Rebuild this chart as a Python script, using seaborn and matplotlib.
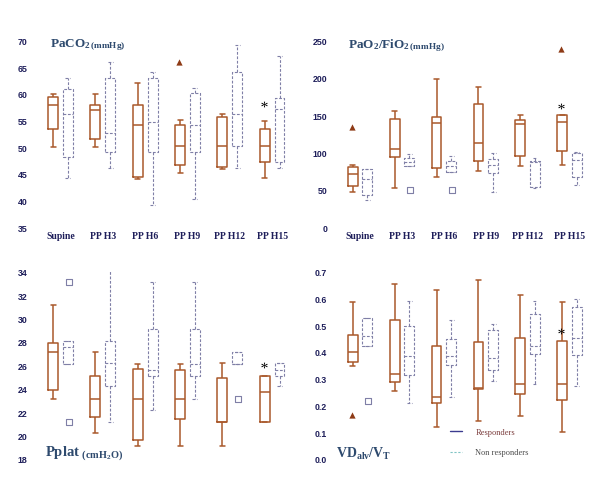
import matplotlib
import numpy as np
import pandas as pd
import seaborn as sns
import matplotlib.pyplot as plt
from matplotlib.lines import Line2D
from matplotlib.ticker import MultipleLocator, FormatStrFormatter

matplotlib.use("agg")

TIMES = ["Supine", "PP H3", "PP H6", "PP H9", "PP H12", "PP H15"]
GROUPS = ["Responders", "Non responders"]

# box summaries per time point: [low whisker, q1, median, q3, high whisker]
paco2_resp = [[50, 53.5, 58, 59.5, 60], [50, 51.5, 57, 58, 60], [44, 44.5, 54.25, 58, 62],
              [45.2, 46.6, 50.2, 54.25, 55.1], [46, 46.4, 50.2, 55.6, 56.2], [44.2, 47.2, 50.2, 53.4, 55]]
paco2_nonresp = [[44.2, 48.2, 56.2, 61, 63], [46.2, 49.1, 52.6, 63, 66], [39.2, 49.2, 54.7, 63, 64.2],
                 [40.3, 49.2, 54.25, 60.1, 61.2], [46.2, 50.2, 56.25, 64.2, 69.2], [46.1, 47.2, 57.2, 59.2, 67.2]]
paco2_resp_out = {"PP H9": 66}
paco2_nonresp_out = {}
paco2_star = {"PP H15": 58.2}

pf_resp = [[47.8, 55.8, 71.4, 81, 84], [53, 94, 104.5, 145, 156], [67, 79, 139.7, 148, 198],
           [75, 88.8, 112.5, 165, 187.5], [82.6, 95, 138, 144, 151], [84, 101.8, 140.6, 150.4, 150.4]]
pf_nonresp = [[36.6, 43.3, 64.7, 78.6, 78.6], [81.7, 81.7, 87, 92.4, 97.8], [73.7, 73.7, 82.6, 89, 95],
              [47.3, 72.8, 84, 91, 99], [52.7, 54, 87, 89.3, 92.4], [57, 67, 90.6, 99, 100.4]]
pf_resp_out = {"Supine": 134, "PP H15": 238.8}
pf_nonresp_out = {"PP H3": 49.6, "PP H6": 49.6}
pf_star = {"PP H15": 162}

pplat_resp = [[23.1, 23.9, 27.1, 27.9, 31.15], [20.2, 21.6, 23.1, 25.1, 27.1], [19.1, 19.65, 23.1, 25.7, 26.1],
              [19.1, 21.4, 23.1, 25.6, 26.1], [19.14, 21.2, 21.2, 24.9, 26.17], [21.2, 21.2, 23.7, 25.1, 25.1]]
pplat_nonresp = [[26.1, 26.1, 27.6, 28.1, 28.1], [21.2, 24.2, 26.2, 28.1, 34.1], [22.2, 25.1, 25.6, 29.1, 33.1],
                 [23.1, 25.1, 26.1, 29.1, 33.1], [26.1, 26.1, 26.1, 27.1, 27.1], [24.2, 25.1, 25.6, 26.2, 26.2]]
pplat_resp_out = {}
pplat_nonresp_out = {"Supine": [33.1, 21.2], "PP H12": 23.1}
pplat_star = {"PP H15": 26.05}

vd_resp = [[0.349, 0.362, 0.40, 0.463, 0.588], [0.255, 0.289, 0.319, 0.518, 0.653], [0.121, 0.21, 0.233, 0.422, 0.633],
           [0.141, 0.26, 0.265, 0.436, 0.669], [0.159, 0.244, 0.281, 0.453, 0.613], [0.1, 0.222, 0.281, 0.442, 0.588]]
vd_nonresp = [[0.421, 0.421, 0.461, 0.527, 0.527], [0.209, 0.313, 0.386, 0.496, 0.59], [0.23, 0.352, 0.386, 0.45, 0.518],
              [0.293, 0.333, 0.376, 0.483, 0.503], [0.281, 0.392, 0.423, 0.54, 0.589], [0.272, 0.387, 0.452, 0.569, 0.599]]
vd_resp_out = {"Supine": 0.166}
vd_nonresp_out = {"Supine": 0.218}
vd_star = {"PP H15": 0.477}

RESP_COLOR = "#A9582B"
NONRESP_COLOR = "#7F7FA6"
TRI_COLOR = "#8E3B16"
TICK_COLOR = "#1E1E5A"
TITLE_COLOR = "#2E4A6E"
PALETTE = {"Responders": RESP_COLOR, "Non responders": NONRESP_COLOR}


def box_table(resp, nonresp):
    rows = []
    for t, r, n in zip(TIMES, resp, nonresp):
        rows += [(t, "Responders", v) for v in r]
        rows += [(t, "Non responders", v) for v in n]
    return pd.DataFrame(rows, columns=["time", "group", "value"])


def point_table(points, group):
    rows = []
    for t, v in points.items():
        for val in np.atleast_1d(v):
            rows.append((t, group, val))
    return pd.DataFrame(rows, columns=["time", "group", "value"])


def draw_panel(ax, resp, nonresp, resp_out, nonresp_out, star):
    df = box_table(resp, nonresp)
    common = dict(x="time", y="value", hue="group", order=TIMES, hue_order=GROUPS,
                  palette=PALETTE, dodge=True, legend=False, ax=ax)
    sns.boxplot(data=df[df.group == "Responders"], fill=False, width=0.7, gap=0.33,
                whis=np.inf, linewidth=1.1, **common)
    dash = dict(linestyle=(0, (2.5, 1.5)), linewidth=0.8)
    sns.boxplot(data=df[df.group == "Non responders"], fill=False, width=0.7, gap=0.33,
                whis=np.inf, linewidth=0.8, boxprops=dash, whiskerprops=dash,
                capprops=dash, medianprops=dash, **common)

    if resp_out:
        sns.stripplot(data=point_table(resp_out, "Responders"), jitter=False, marker="^",
                      size=4.5, **{**common, "palette": {g: TRI_COLOR for g in GROUPS}})
    if nonresp_out:
        n_before = len(ax.collections)
        sns.stripplot(data=point_table(nonresp_out, "Non responders"), jitter=False, marker="s",
                      size=4, **common)
        for sq in ax.collections[n_before:]:
            sq.set_facecolor("white")
            sq.set_edgecolor(NONRESP_COLOR)
            sq.set_linewidth(0.8)
    sns.stripplot(data=point_table(star, "Responders"), jitter=False, marker="$*$",
                  size=4.5, **{**common, "palette": {g: "black" for g in GROUPS}})

    ax.set_xlim(-0.65, 5.55)
    ax.set_xlabel("")
    ax.set_ylabel("")
    sns.despine(ax=ax, left=True, bottom=True)
    ax.tick_params(axis="y", which="both", colors="#9a9a9a", width=0.6, pad=1.5,
                   labelcolor=TICK_COLOR, labelsize=6.3)
    ax.tick_params(axis="y", which="major", length=2.5)
    ax.tick_params(axis="y", which="minor", length=1.5)
    ax.tick_params(axis="x", length=0, pad=3, labelcolor=TICK_COLOR, labelsize=7)
    for lab in ax.get_xticklabels():
        lab.set_fontweight("bold")
        lab.set_family("Liberation Serif")


sns.set_style("white")
plt.rcParams["font.family"] = ["Liberation Sans", "DejaVu Sans"]
plt.rcParams["mathtext.fontset"] = "custom"
plt.rcParams["mathtext.rm"] = "Liberation Serif"
plt.rcParams["mathtext.bf"] = "Liberation Serif:bold"
plt.rcParams["mathtext.it"] = "Liberation Serif:italic"

fig = plt.figure(figsize=(6, 4.81), dpi=100)
ax1 = fig.add_axes([0.055, 0.5253, 0.4373, 0.3881])
ax2 = fig.add_axes([0.5547, 0.5253, 0.433, 0.3881])
ax3 = fig.add_axes([0.055, 0.0437, 0.4373, 0.3895])
ax4 = fig.add_axes([0.5547, 0.0437, 0.433, 0.3895])

draw_panel(ax1, paco2_resp, paco2_nonresp, paco2_resp_out, paco2_nonresp_out, paco2_star)
ax1.set_ylim(35, 70)
ax1.yaxis.set_major_locator(MultipleLocator(5))

draw_panel(ax2, pf_resp, pf_nonresp, pf_resp_out, pf_nonresp_out, pf_star)
ax2.set_ylim(0, 250)
ax2.yaxis.set_major_locator(MultipleLocator(50))

draw_panel(ax3, pplat_resp, pplat_nonresp, pplat_resp_out, pplat_nonresp_out, pplat_star)
ax3.set_ylim(18, 34)
ax3.yaxis.set_major_locator(MultipleLocator(2))
ax3.yaxis.set_minor_locator(MultipleLocator(1))
ax3.set_xticklabels([])

draw_panel(ax4, vd_resp, vd_nonresp, vd_resp_out, vd_nonresp_out, vd_star)
ax4.set_ylim(0, 0.7)
ax4.yaxis.set_major_locator(MultipleLocator(0.1))
ax4.yaxis.set_minor_locator(MultipleLocator(0.05))
ax4.yaxis.set_major_formatter(FormatStrFormatter("%.1f"))
ax4.set_xticklabels([])

for ax in (ax1, ax2, ax3, ax4):
    for lab in ax.get_yticklabels():
        lab.set_fontweight("bold")
        lab.set_family("Liberation Sans")

# panel titles
fig.text(50 / 600, 1 - 47 / 481, r"$\mathbf{PaCO_{2\,(mmHg)}}$", color=TITLE_COLOR,
         fontsize=9.5, va="baseline")
fig.text(348 / 600, 1 - 48 / 481, r"$\mathbf{PaO_2/FiO_{2\,(mmHg)}}$", color=TITLE_COLOR,
         fontsize=9.5, va="baseline")
fig.text(45 / 600, 1 - 456 / 481, r"$\mathbf{Pplat}\ _{\mathbf{(cmH_2O)}}$", color=TITLE_COLOR,
         fontsize=10.5, va="baseline")
fig.text(336 / 600, 1 - 458 / 481, r"$\mathbf{VD_{alv}/V_T}$", color=TITLE_COLOR,
         fontsize=10, va="baseline")

handles = [Line2D([], [], color="#3B3B8F", lw=1.0),
           Line2D([], [], color="#7FC4C4", lw=0.8, ls=(0, (2, 1.5)))]
leg = ax4.legend(handles, GROUPS, loc="upper left", bbox_to_anchor=(450 / 600, 1 - 429 / 481),
                 bbox_transform=fig.transFigure, frameon=False, borderpad=0, borderaxespad=0,
                 handlelength=1.45, handletextpad=1.6, labelspacing=1.5,
                 prop=dict(family="Liberation Serif", size=6))
leg.get_texts()[0].set_color("#7A3B3B")
leg.get_texts()[1].set_color("#4A4A4A")

fig.savefig("out.png", dpi=100)
